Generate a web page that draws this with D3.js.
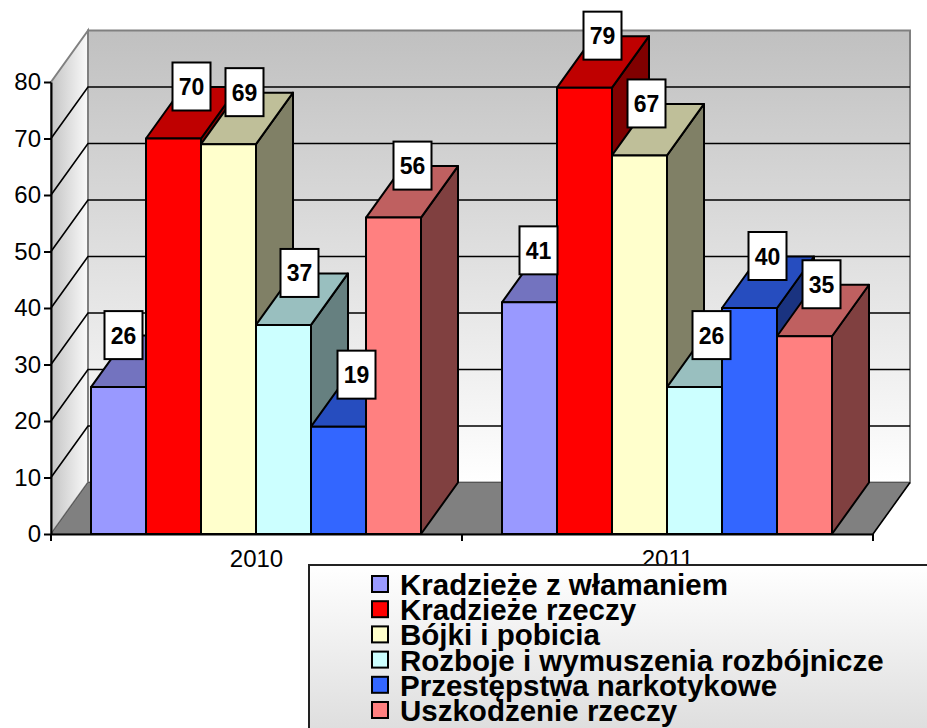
<!DOCTYPE html>
<html><head><meta charset="utf-8">
<script src="https://cdn.jsdelivr.net/npm/d3@7"></script>
<style>html,body{margin:0;padding:0;background:#fff}svg{display:block}text{font-family:"Liberation Sans",Arial,sans-serif}</style>
</head><body><svg id="c" width="927" height="728"></svg>
<script>
const years = ["2010", "2011"];
const seriesNames = ["Kradzieże z włamaniem", "Kradzieże rzeczy", "Bójki i pobicia", "Rozboje i wymuszenia rozbójnicze", "Przestępstwa narkotykowe", "Uszkodzenie rzeczy"];
const values2010 = [26, 70, 69, 37, 19, 56];
const values2011 = [41, 79, 67, 26, 40, 35];
const yTicks = [0, 10, 20, 30, 40, 50, 60, 70, 80];
const frontColors = ["#9999ff", "#ff0000", "#ffffcc", "#ccffff", "#3366ff", "#ff8080"];
const labelNudge2010 = [5, 18, 16, 16, 18, 19];
const labelNudge2011 = [9, 18, 7, 17, 18, 17];

const M = {left: 51, right: 873, bottom: 534, top: 82, dx: 37, dy: 51.5};
const svg = d3.select("#c");
const defs = svg.append("defs");
const lg = (id, x2, y2, stops) => {
  const g = defs.append("linearGradient").attr("id", id).attr("x1", 0).attr("y1", 0).attr("x2", x2).attr("y2", y2);
  stops.forEach(s => g.append("stop").attr("offset", s[0]).attr("stop-color", s[1]));
};
lg("back", 0, 1, [[0, "#c0c0c0"], [1, "#ffffff"]]);
lg("side", 1, 0, [[0, "#c4c4c4"], [1, "#fafafa"]]);
lg("leg", 0, 1, [[0, "#ffffff"], [1, "#d9d9d9"]]);

const x0 = d3.scaleBand().domain(years).range([M.left, M.right]);
const x1 = d3.scaleBand().domain(seriesNames).range([40, 370]);
const y = d3.scaleLinear().domain([0, 80]).range([M.bottom, M.top]);
const pts = a => a.map(p => p.join(",")).join(" ");
const {dx, dy} = M;

// walls and floor
svg.append("polygon").attr("points", pts([[M.left, y(80)], [M.left + dx, y(80) - dy], [M.left + dx, y(0) - dy], [M.left, y(0)]]))
  .attr("fill", "url(#side)").attr("stroke", "#808080").attr("stroke-width", 2);
svg.append("rect").attr("x", M.left + dx).attr("y", y(80) - dy).attr("width", M.right - M.left).attr("height", y(0) - y(80))
  .attr("fill", "url(#back)").attr("stroke", "#808080").attr("stroke-width", 2);
svg.selectAll(".grid").data(yTicks.slice(1, -1)).join("path").attr("class", "grid")
  .attr("d", d => `M${M.left},${y(d)}L${M.left + dx},${y(d) - dy}H${M.right + dx}`)
  .attr("fill", "none").attr("stroke", "#000").attr("stroke-width", 1.6);
svg.append("polygon").attr("points", pts([[M.left, y(0)], [M.left + dx, y(0) - dy], [M.right + dx, y(0) - dy], [M.right, y(0)]]))
  .attr("fill", "#808080").attr("stroke", "#555").attr("stroke-width", 1);
svg.append("line").attr("x1", M.right).attr("y1", y(0)).attr("x2", M.right + dx).attr("y2", y(0) - dy).attr("stroke", "#000").attr("stroke-width", 1.6);

// bars
const rows = years.flatMap((yr, g) => seriesNames.map((s, i) => ({
  yr, s, i, v: (g ? values2011 : values2010)[i], nudge: (g ? labelNudge2011 : labelNudge2010)[i]
})));
const shade = (c, k) => { const r = d3.rgb(c); return d3.rgb(r.r * k, r.g * k, r.b * k).formatHex(); };
const bar = svg.append("g").selectAll("g").data(rows).join("g")
  .attr("stroke", "#000").attr("stroke-width", 2).attr("stroke-linejoin", "round");
const L = d => x0(d.yr) + x1(d.s), R = d => L(d) + x1.bandwidth();
bar.append("polygon").attr("fill", d => shade(frontColors[d.i], .5))
  .attr("points", d => pts([[R(d), y(d.v)], [R(d) + dx, y(d.v) - dy], [R(d) + dx, y(0) - dy], [R(d), y(0)]]));
bar.append("polygon").attr("fill", d => shade(frontColors[d.i], .75))
  .attr("points", d => pts([[L(d), y(d.v)], [L(d) + dx, y(d.v) - dy], [R(d) + dx, y(d.v) - dy], [R(d), y(d.v)]]));
bar.append("rect").attr("fill", d => frontColors[d.i])
  .attr("x", L).attr("y", d => y(d.v)).attr("width", x1.bandwidth()).attr("height", d => y(0) - y(d.v));

// axes
const axisStyle = g => {
  g.selectAll("path,line").attr("stroke", "#000").attr("stroke-width", 2);
  g.selectAll("text").attr("fill", "#000").attr("font-size", 24).attr("font-family", '"Liberation Sans",Arial,sans-serif');
};
svg.append("g").attr("transform", `translate(${M.left},0)`)
  .call(d3.axisLeft(y).tickValues(yTicks).tickSize(7).tickSizeOuter(0).tickPadding(3)).call(axisStyle);
const xAxis = svg.append("g").attr("transform", `translate(0,${M.bottom})`)
  .call(d3.axisBottom(x0).tickSize(0).tickPadding(16)).call(axisStyle);
svg.selectAll(".xt").data(d3.range(years.length + 1)).join("line").attr("class", "xt")
  .attr("x1", i => M.left + i * x0.bandwidth()).attr("x2", i => M.left + i * x0.bandwidth())
  .attr("y1", M.bottom).attr("y2", M.bottom + 7).attr("stroke", "#000").attr("stroke-width", 2);

// value labels
const lab = svg.append("g").selectAll("g").data(rows).join("g")
  .attr("transform", d => `translate(${(L(d) + R(d)) / 2 + d.nudge},${y(d.v) - 52})`);
lab.append("rect").attr("x", -19).attr("y", -24).attr("width", 38).attr("height", 48)
  .attr("fill", "#fff").attr("stroke", "#000").attr("stroke-width", 2);
lab.append("text").attr("text-anchor", "middle").attr("y", 8.5).attr("font-weight", "bold").attr("font-size", 23).text(d => d.v);

// legend
svg.append("rect").attr("x", 309).attr("y", 565).attr("width", 640).attr("height", 190)
  .attr("fill", "url(#leg)").attr("stroke", "#222").attr("stroke-width", 2);
const legendY = d3.scalePoint().domain(seriesNames).range([584, 710]);
const li = svg.append("g").selectAll("g").data(seriesNames).join("g")
  .attr("transform", d => `translate(0,${legendY(d)})`);
li.append("rect").attr("x", 372).attr("y", -8).attr("width", 16).attr("height", 16)
  .attr("fill", (d, i) => frontColors[i]).attr("stroke", "#000").attr("stroke-width", 2);
li.append("text").attr("x", 400).attr("y", 11).attr("font-weight", "bold").attr("font-size", 29.5).attr("fill", "#000").text(d => d);
</script></body></html>
